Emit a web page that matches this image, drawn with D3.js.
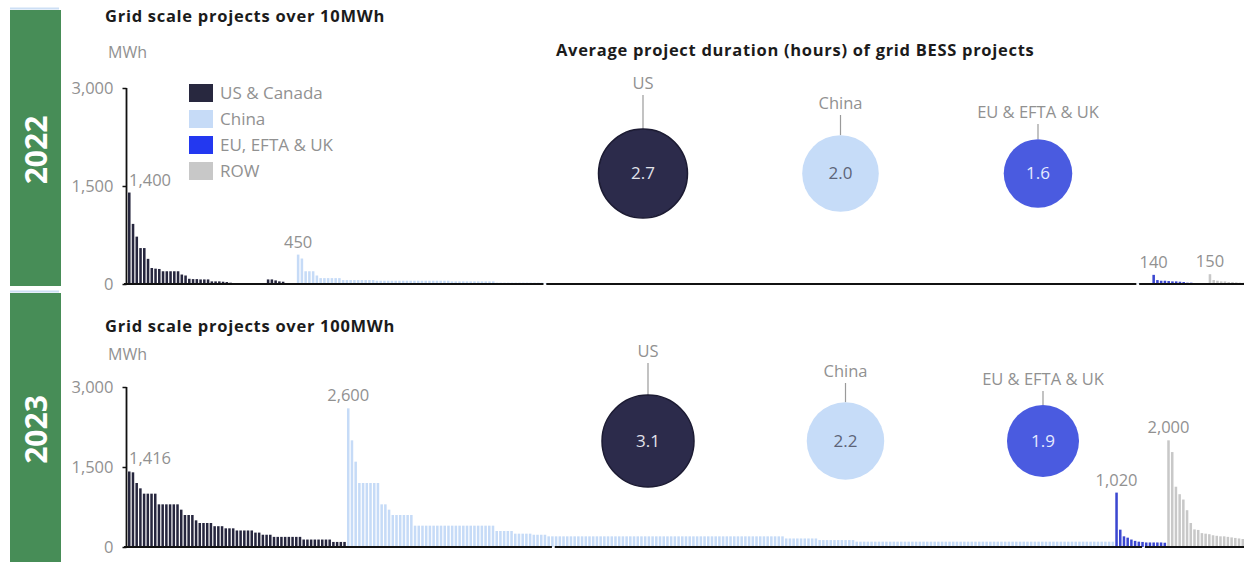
<!DOCTYPE html>
<html><head><meta charset="utf-8">
<script src="https://cdn.jsdelivr.net/npm/d3@7"></script>
<style>
html,body{margin:0;padding:0;background:#fff;}
svg{display:block;font-family:"Open Sans",sans-serif;}
</style></head><body>
<svg id="chart" width="1244" height="562"></svg>
<script>
// ---------------- DATA ----------------
const regions = ["US & Canada", "China", "EU, EFTA & UK", "ROW"];
const yTicks = [0, 1500, 3000];
const durationRegions = ["US", "China", "EU & EFTA & UK"];
const duration2022 = [2.7, 2.0, 1.6];
const duration2023 = [3.1, 2.2, 1.9];
const years = ["2022", "2023"];
const titles = ["Grid scale projects over 10MWh", "Grid scale projects over 100MWh"];

// 2022 project sizes (MWh), sorted per region
const us2022 = [1400,920,725,550,550,385,245,235,230,195,195,195,195,195,145,130,80,75,75,70,70,70,40,40,40,35,30,20,15,12,
  0,0,0,0,0,0,0, 70,70,55,40,35, 10,10,10];
const china2022 = [450,390,195,195,195,130,90,90,90,90,90,90,
  60,60,60,60,60,60,60,60,60,
  50,50,50,50,50,50,50,50,50,50,50,50,50,50,50,50,50,50,50,50,
  40,40,40,40,40,40,40,40,40,40,40,40,
  20,20,20,20,20,20,20,20,20,20,20,20,20,
  10,10,10,10,10,10,10,10,10,10,10,10,10,10,10,10,10,10,10,10,
  10,10,10,10,10,10,10,10,10,10,10,10,10,10,10,10,10,10,10,10,
  10,10,10,10,10,10,10,10,10,10,10,10,10,10,10,10,10,10,10,10,
  10,10,10,10,10,10,10,10,10,10,10,10,10,10,10,10,10,10,10,10,
  10,10,10,10,10,10,10,10,10,10,10,10,10,10,10,10,10,10,10,10,
  10,10,10,10,10,10,10,10,10,10,10,10,10,10,10,10,10,10,10,10,
  10,10,10,10,10,10,10,10,10,10,10,10,10,10,10,10,10,10,10,10,
  10,10,10,10,10,10,10,10,10,10,10,10,10,10,10,10,10,10,10,10,
  10,10];
const eu2022 = [140,60,50,50,45,40,40,35,30,20,20,15,15,10,10];
const row2022 = [150,60,50,40,40,30,30,25,20,20];

// 2023 project sizes (MWh), sorted per region
const us2023 = [1416,1400,1200,1100,1000,1000,1000,1000,800,800,800,800,800,800,700,600,600,600,500,
  450,450,450,450,390,390,390,350,350,350,310,310,310,310,310,270,270,230,230,230,
  190,190,190,190,190,190,190,190,140,140,140,140,140,140,140,140,95,95,95,95];
const china2023 = [2600,2000,1600,1200,1200,1200,1200,1200,1200,800,800,700,600,600,600,600,600,600,
  400,400,400,400,400,400,400,400,400,400,400,400,400,400,400,400,400,400,400,400,400,400,
  300,300,300,300,300,250,250,250,250,250,230,230,230,230,
  200,200,200,200,200,200,200,200,200,200,200,200,200,200,200,200,
  200,200,200,200,200,200,200,200,200,200,200,200,200,200,200,200,
  200,200,200,200,200,200,200,200,200,200,200,200,200,200,200,200,
  200,200,200,200,200,200,200,200,200,200,200,200,200,200,200,200,
  160,160,160,160,160,160,160,160,160,
  130,130,130,130,130,130,130,130,130,130,
  100,100,100,100,100,100,100,100,100,100,100,100,100,100,100,100,100,100,100,100,
  100,100,100,100,100,100,100,100,100,100,100,100,100,100,100,100,100,100,100,100,
  100,100,100,100,100,100,100,100,100,100,100,100,100,100,100,100,100,100,100,100,
  100,100,100,100,100,100,100,100,100,100];
const eu2023 = [1020,325,200,175,140,115,100,95,85,85,85,85,85,80];
const row2023 = [2000,1780,1130,990,890,690,450,330,320,260,250,240,220,210,200,200,190,180,170,160,150];

// ---------------- STYLE / LAYOUT ----------------
const barColor = {"US & Canada":"#26263e","China":"#c6dbf7","EU, EFTA & UK":"#3b47d0","ROW":"#c8c8c8"};
const legendColor = {"US & Canada":"#28283f","China":"#c6dbf7","EU, EFTA & UK":"#2338f0","ROW":"#c8c8c8"};
const circleColor = ["#2c2b4b","#c6dcf8","#4a5be0"];
const circleText = ["#e2e2ea","#5d6478","#e6eaff"];
const gray = "#919191";

const panels = [
  {year: years[0], title: titles[0], series:[us2022, china2022, eu2022, row2022], dur: duration2022,
   titleY: 22, mwhY: 58, y0: 284, yTop: 88, xEnd: 1245, breaks:[111.1, 269.1],
   cy: 173.5, cx:[643, 1038], rMax: 44.5, labelY:[83, 103, 112], box:[10, 286], avgTitle: true, legend: true},
  {year: years[1], title: titles[1], series:[us2023, china2023, eu2023, row2023], dur: duration2023,
   titleY: 332, mwhY: 360, y0: 547, yTop: 387, xEnd: 1244, breaks:[114.6, 273.6],
   cy: 441, cx:[648, 1043], rMax: 46, labelY:[351, 371, 379], box:[293, 562], avgTitle: false, legend: false}
];

const svg = d3.select("#chart");

panels.forEach(p => {
  const g = svg.append("g");
  // year box
  g.append("rect").attr("x", 10).attr("y", p.box[0] - 2.5).attr("width", 49).attr("height", 2).attr("fill", "#cddff5");
  g.append("rect").attr("x", 10).attr("y", p.box[0]).attr("width", 51).attr("height", p.box[1] - p.box[0]).attr("fill", "#478d57");
  g.append("text").attr("transform", `translate(36,${(p.box[0] + p.box[1]) / 2 + 2}) rotate(-90)`)
    .attr("text-anchor", "middle").attr("dy", "0.35em")
    .attr("fill", "#fff").attr("font-weight", 700).attr("font-size", 30).text(p.year);

  // titles
  g.append("text").attr("x", 105).attr("y", p.titleY).attr("font-weight", 700).attr("font-size", 16.5)
    .attr("letter-spacing", 0.72).attr("fill", "#1b1b1b").text(p.title);
  g.append("text").attr("x", 108).attr("y", p.mwhY).attr("font-size", 16).attr("fill", gray).text("MWh");

  // scales
  const flat = [];
  p.series.forEach((arr, ri) => arr.forEach((v, j) => flat.push({region: regions[ri], value: v, first: j === 0})));
  const x = d3.scaleBand().domain(d3.range(flat.length)).range([128, p.xEnd]).paddingInner(0.32).paddingOuter(0);
  const y = d3.scaleLinear().domain([0, 3000]).range([p.y0, p.yTop]);

  // bars
  g.append("g").selectAll("rect").data(flat).join("rect")
    .attr("x", (d, i) => x(i)).attr("width", x.bandwidth())
    .attr("y", d => y(d.value)).attr("height", d => y(0) - y(d.value))
    .attr("fill", d => barColor[d.region]);

  // region max labels
  flat.forEach((d, i) => {
    if (!d.first) return;
    const isFirst = d.region === regions[0];
    g.append("text")
      .attr("x", isFirst ? x(i) + 1 : x(i) + x.bandwidth() / 2)
      .attr("y", y(d.value) - 7)
      .attr("text-anchor", isFirst ? "start" : "middle")
      .attr("font-size", 16.5).attr("fill", gray).text(d3.format(",")(d.value));
  });

  // baseline with breaks
  const step = x.step();
  const bx = [124].concat(...p.breaks.map(b => [128 + b * step - 1.4, 128 + b * step + 1.4]), [1244]);
  for (let k = 0; k < bx.length; k += 2) {
    g.append("line").attr("x1", bx[k]).attr("x2", bx[k + 1]).attr("y1", y(0)).attr("y2", y(0))
      .attr("stroke", "#111").attr("stroke-width", 2);
  }

  // y axis
  const ax = g.append("g").attr("transform", "translate(126.5,0)")
    .call(d3.axisLeft(y).tickValues(yTicks).tickSize(4).tickPadding(9).tickFormat(d3.format(",")));
  ax.select(".domain").remove();
  ax.selectAll(".tick line").attr("stroke", "#111").attr("stroke-width", 1.5);
  ax.selectAll(".tick text").attr("fill", gray).attr("font-size", 16.5).attr("font-family", "Open Sans");
  g.append("line").attr("x1", 126.5).attr("x2", 126.5).attr("y1", y(3000)).attr("y2", y(0))
    .attr("stroke", "#111").attr("stroke-width", 1.8);

  // legend
  if (p.legend) {
    const lg = g.append("g");
    regions.forEach((r, i) => {
      lg.append("rect").attr("x", 189).attr("y", 84 + i * 26).attr("width", 24).attr("height", 18).attr("fill", legendColor[r]);
      lg.append("text").attr("x", 220).attr("y", 93 + i * 26).attr("dy", "0.35em")
        .attr("font-size", 17).attr("fill", gray).text(r);
    });
  }

  // duration bubbles
  if (p.avgTitle) {
    g.append("text").attr("x", 556).attr("y", 56).attr("font-weight", 700).attr("font-size", 16.5)
      .attr("letter-spacing", 0.7).attr("fill", "#1b1b1b").text("Average project duration (hours) of grid BESS projects");
  }
  const rScale = d3.scaleSqrt().domain([0, d3.max(p.dur)]).range([0, p.rMax]);
  const cx = d3.scalePoint().domain(durationRegions).range(p.cx);
  durationRegions.forEach((r, i) => {
    const rr = rScale(p.dur[i]);
    const top = p.cy - rr;
    g.append("line").attr("x1", cx(r)).attr("x2", cx(r)).attr("y1", p.labelY[i] + 12).attr("y2", top)
      .attr("stroke", "#9a9a9a").attr("stroke-width", 1.2);
    g.append("text").attr("x", cx(r)).attr("y", p.labelY[i]).attr("dy", "0.35em")
      .attr("text-anchor", "middle").attr("font-size", 16.5).attr("fill", gray).text(r);
    g.append("circle").attr("cx", cx(r)).attr("cy", p.cy).attr("r", rr).attr("fill", circleColor[i])
      .attr("stroke", i === 0 ? "#1c1b33" : "none").attr("stroke-width", 1.5);
    g.append("text").attr("x", cx(r)).attr("y", p.cy).attr("dy", "0.35em").attr("text-anchor", "middle")
      .attr("font-size", 17).attr("fill", circleText[i]).text(d3.format(".1f")(p.dur[i]));
  });
});
</script></body></html>
